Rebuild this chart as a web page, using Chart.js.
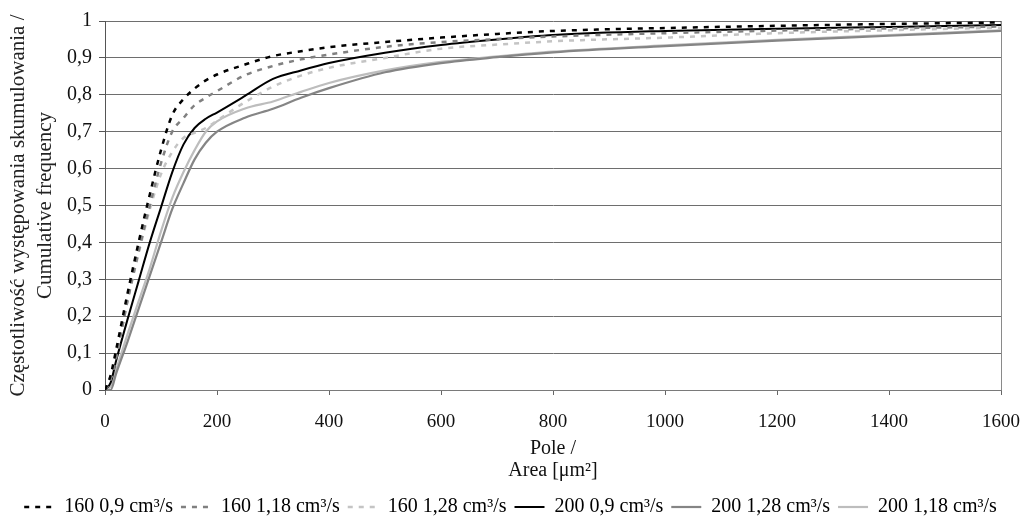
<!DOCTYPE html>
<html>
<head>
<meta charset="utf-8">
<script src="https://cdn.jsdelivr.net/npm/chart.js@4.4.1/dist/chart.umd.min.js"></script>
<style>
html,body{margin:0;padding:0;background:#fff;}
#wrap{width:1021px;height:523px;position:relative;}
</style>
</head>
<body>
<div id="wrap"><canvas id="c"></canvas></div>
<script>
// Area values (x axis, µm²)
const areaX = [0, 10, 20, 40, 60, 80, 100, 120, 140, 160, 180, 200, 250, 300, 350, 400, 500, 600, 700, 800, 1000, 1200, 1400, 1600];

// Cumulative frequency per series
const s160_09  = [0, 0.04, 0.11, 0.26, 0.40, 0.53, 0.65, 0.745, 0.788, 0.817, 0.839, 0.855, 0.882, 0.905, 0.918, 0.929, 0.943, 0.955, 0.965, 0.973, 0.981, 0.987, 0.992, 0.996];
const s160_118 = [0, 0.03, 0.09, 0.24, 0.375, 0.50, 0.615, 0.70, 0.737, 0.772, 0.792, 0.81, 0.853, 0.878, 0.896, 0.909, 0.93, 0.943, 0.951, 0.958, 0.967, 0.974, 0.980, 0.985];
const s160_128 = [0, 0.03, 0.09, 0.24, 0.37, 0.49, 0.585, 0.645, 0.683, 0.697, 0.71, 0.73, 0.78, 0.822, 0.852, 0.873, 0.90, 0.925, 0.936, 0.945, 0.955, 0.967, 0.975, 0.982];
const s200_09  = [0, 0.02, 0.08, 0.19, 0.295, 0.40, 0.495, 0.59, 0.665, 0.71, 0.735, 0.752, 0.797, 0.843, 0.866, 0.886, 0.914, 0.935, 0.95, 0.962, 0.973, 0.979, 0.984, 0.989];
const s200_128 = [0, 0.0, 0.045, 0.13, 0.22, 0.31, 0.40, 0.49, 0.56, 0.625, 0.67, 0.70, 0.738, 0.762, 0.792, 0.818, 0.861, 0.886, 0.902, 0.915, 0.932, 0.947, 0.96, 0.973];
const s200_118 = [0, 0.01, 0.055, 0.15, 0.24, 0.33, 0.43, 0.52, 0.59, 0.65, 0.70, 0.728, 0.763, 0.782, 0.808, 0.832, 0.866, 0.889, 0.904, 0.917, 0.934, 0.949, 0.962, 0.975];

const seriesLabels = ['160 0,9 cm³/s', '160 1,18 cm³/s', '160 1,28 cm³/s', '200 0,9 cm³/s', '200 1,28 cm³/s', '200 1,18 cm³/s'];
const xTicks = [0, 200, 400, 600, 800, 1000, 1200, 1400, 1600];
const yTitle = ['Częstotliwość występowania skumulowania /', 'Cumulative frequency'];
const xTitle = ['Pole /', 'Area [μm²]'];

const seriesValues = [s160_09, s160_118, s160_128, s200_09, s200_128, s200_118];
const styles = [
  {color: '#000000', dash: [5, 6], width: 2.5},
  {color: '#808080', dash: [5, 6], width: 2.5},
  {color: '#c4c4c4', dash: [5, 6], width: 2.5},
  {color: '#000000', dash: [], width: 2},
  {color: '#858585', dash: [], width: 2.2},
  {color: '#bdbdbd', dash: [], width: 2.2}
];

const datasets = seriesValues.map((vals, i) => ({
  label: seriesLabels[i],
  data: areaX.map((x, k) => ({x: x, y: vals[k]})),
  borderColor: styles[i].color,
  backgroundColor: styles[i].color,
  borderDash: styles[i].dash,
  borderWidth: styles[i].width,
  pointRadius: 0,
  fill: false,
  cubicInterpolationMode: 'monotone'
}));

Chart.defaults.font.family = "'Liberation Serif', 'Times New Roman', serif";
Chart.defaults.color = '#111';

new Chart(document.getElementById('c'), {
  type: 'line',
  data: {datasets: datasets},
  options: {
    responsive: true,
    maintainAspectRatio: false,
    animation: false,
    layout: {padding: {top: 21, right: 0, left: 0, bottom: -4}},
    plugins: {
      tooltip: {enabled: false},
      legend: {
        position: 'bottom',
        labels: {
          font: {size: 20},
          color: '#111',
          usePointStyle: true,
          pointStyleWidth: 30,
          boxHeight: 20,
          padding: 8,
          generateLabels: (chart) => chart.data.datasets.map((ds, i) => ({
            text: ds.label,
            strokeStyle: ds.borderColor,
            fillStyle: 'rgba(0,0,0,0)',
            lineWidth: ds.borderWidth,
            lineDash: ds.borderDash,
            pointStyle: 'line',
            hidden: false,
            datasetIndex: i
          }))
        }
      }
    },
    scales: {
      x: {
        type: 'linear',
        min: 0, max: 1600,
        afterBuildTicks: (scale) => { scale.ticks = xTicks.map(v => ({value: v})); },
        ticks: {font: {size: 19}, padding: 16, maxRotation: 0, color: '#111', callback: (v) => String(v)},
        grid: {
          drawOnChartArea: true,
          color: (ctx) => (ctx.tick && ctx.tick.value === 1600) ? '#8a8a8a' : 'rgba(0,0,0,0)',
          tickColor: '#666',
          tickLength: 5,
          lineWidth: 1
        },
        border: {color: '#7a7a7a', width: 1},
        title: {display: true, text: xTitle, font: {size: 20, lineHeight: 1.1}, color: '#111', padding: {top: 4, bottom: 7}},
        afterFit: (scale) => { scale.height = 99; scale.paddingRight = 20; }
      },
      y: {
        min: 0, max: 1,
        ticks: {
          stepSize: 0.1,
          font: {size: 20},
          padding: 7,
          color: '#111',
          callback: (v) => {
            const r = Math.round(v * 10) / 10;
            if (r === 0) return '0';
            if (r === 1) return '1';
            return r.toFixed(1).replace('.', ',');
          }
        },
        grid: {color: '#6e6e6e', tickColor: '#555', tickLength: 6, lineWidth: 1},
        border: {color: '#555', width: 1},
        title: {display: true, text: yTitle, font: {size: 21, lineHeight: 1.3}, color: '#222', padding: {top: 4.5, bottom: 0}},
        afterFit: (scale) => { scale.width = 105; }
      }
    }
  }
});
</script>
</body>
</html>
